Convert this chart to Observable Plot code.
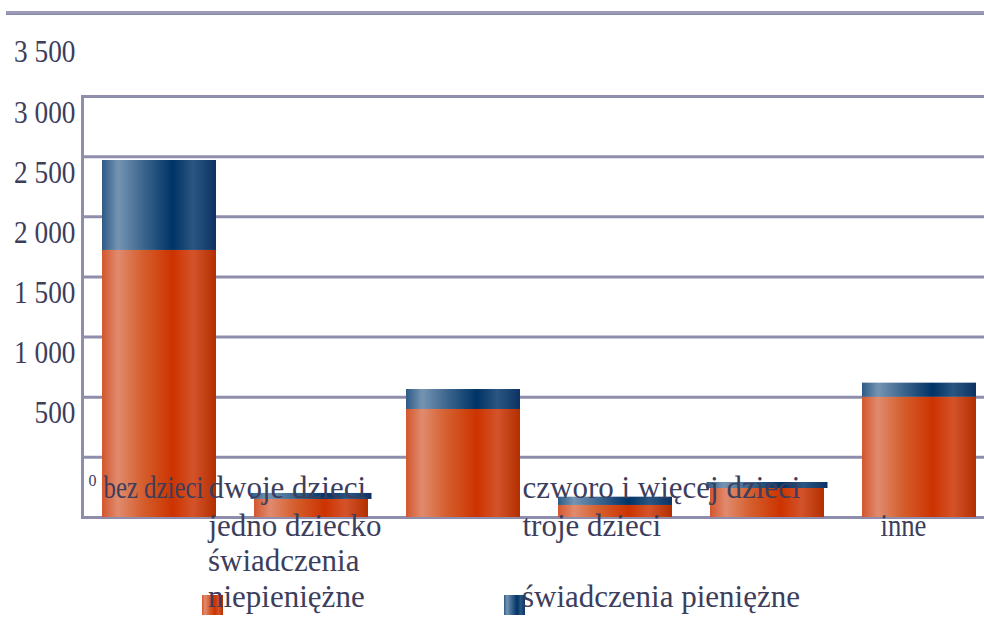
<!DOCTYPE html>
<html>
<head>
<meta charset="utf-8">
<script src="https://cdn.jsdelivr.net/npm/d3@7"></script>
<script src="https://cdn.jsdelivr.net/npm/@observablehq/plot@0.6"></script>
<style>
  html, body { margin: 0; padding: 0; background: #ffffff; }
  #wrap { position: relative; width: 984px; height: 618px; overflow: hidden; font-family: "Liberation Serif", serif; color: #3d3d5c; }
  #topline { position: absolute; left: 6px; right: 0; top: 11px; height: 3px; background: #9a9ab6; border-bottom: 1px solid #8686a6; }
  #chart { position: absolute; left: 0; top: 0; }
  .sw { position: absolute; width: 21px; height: 20px; }
  .sw.o { background: linear-gradient(to right, #d4562e 0%, #e08b6e 14%, #d5602f 35%, #cc3300 62%, #d4532a 80%, #b32f00 100%); }
  .sw.b { background: linear-gradient(to right, #2c5a86 0%, #7594b2 14%, #3f6890 35%, #003366 62%, #2a5681 80%, #0c3264 100%); }
  .lt { position: absolute; font-size: 31px; line-height: 36px; white-space: normal; }
</style>
</head>
<body>
<div id="wrap">
  <div id="topline"></div>
  <div id="chart"></div>
  <div id="legend"></div>
</div>
<script>
// ---- data ----
const categories = ["bez dzieci", "jedno dziecko", "dwoje dzieci", "troje dzieci", "czworo i więcej dzieci", "inne"];
const niepieniezne = [2220, 150, 898, 100, 241, 1000];
const pieniezne = [748, 50, 166, 69, 50, 117];
const seriesNames = ["świadczenia niepieniężne", "świadczenia pieniężne"];
const yTicks = [500, 1000, 1500, 2000, 2500, 3000, 3500];
const yTickLabels = ["500", "1 000", "1 500", "2 000", "2 500", "3 000", "3 500"];
const gridValues = [0, 500, 1000, 1500, 2000, 2500, 3000, 3500];
const zeroLabel = "0";

// table built from arrays
const table = categories.map((c, i) => ({
  cat: c,
  a: niepieniezne[i],
  b: pieniezne[i]
}));

// label layout (style only): row and horizontal offset from band centre
const labelLayout = {
  "bez dzieci": {row: 1, dx: -56},
  "jedno dziecko": {row: 2, dx: -103},
  "dwoje dzieci": {row: 1, dx: -255},
  "troje dzieci": {row: 2, dx: -93},
  "czworo i więcej dzieci": {row: 1, dx: -245},
  "inne": {row: 2, dx: -39}
};
const wideCaps = ["jedno dziecko", "czworo i więcej dzieci"];

const gridColor = "#8e8eac";
const textColor = "#3d3d5c";

const labelMarks = categories.map(c => Plot.text([c], {
  x: d => d,
  y: d => 0,
  text: d => d,
  textAnchor: "start",
  lineAnchor: "middle",
  dx: labelLayout[c].dx,
  dy: labelLayout[c].row === 1 ? -29 : 9,
  fontSize: 31,
  fill: textColor
}));

const plot = Plot.plot({
  width: 984,
  height: 560,
  marginLeft: 82,
  marginRight: 0,
  marginTop: 96,
  marginBottom: 43,
  x: {domain: categories, range: [83, 995], paddingInner: 0.25, paddingOuter: 0.125, axis: null},
  y: {domain: [0, 3500], axis: null},
  style: {fontFamily: "'Liberation Serif', serif", color: textColor, background: "transparent", overflow: "visible"},
  marks: [
    Plot.ruleY(gridValues, {stroke: gridColor, strokeWidth: 3}),
    Plot.frame({anchor: "left", stroke: gridColor, strokeWidth: 3}),
    Plot.barY(table, {x: "cat", y1: d => 0, y2: "a", fill: "url(#gradO)"}),
    Plot.barY(table.filter(d => !wideCaps.includes(d.cat)), {x: "cat", y1: "a", y2: d => d.a + d.b, fill: "url(#gradB)"}),
    Plot.barY(table.filter(d => wideCaps.includes(d.cat)), {x: "cat", y1: "a", y2: d => d.a + d.b, fill: "url(#gradB)", insetLeft: -3.5, insetRight: -3.5}),
    Plot.axisY(yTicks, {
      tickSize: 0,
      tickPadding: 7,
      dy: -44,
      fontSize: 31,
      label: null,
      tickFormat: d => yTickLabels[yTicks.indexOf(d)]
    }),
    Plot.text([0], {y: d => d, text: d => zeroLabel, frameAnchor: "left", textAnchor: "start", dx: 6, dy: -37, fontSize: 16, fill: textColor}),
    ...labelMarks
  ]
});

// gradients
const ns = "http://www.w3.org/2000/svg";
const defs = document.createElementNS(ns, "defs");
function grad(id, stops) {
  const g = document.createElementNS(ns, "linearGradient");
  g.setAttribute("id", id);
  g.setAttribute("x1", "0"); g.setAttribute("x2", "1");
  g.setAttribute("y1", "0"); g.setAttribute("y2", "0");
  stops.forEach(([o, c]) => {
    const s = document.createElementNS(ns, "stop");
    s.setAttribute("offset", o);
    s.setAttribute("stop-color", c);
    g.appendChild(s);
  });
  defs.appendChild(g);
}
grad("gradO", [[0, "#d4562e"], [0.14, "#e08b6e"], [0.35, "#d5602f"], [0.62, "#cc3300"], [0.80, "#d4532a"], [1, "#b32f00"]]);
grad("gradB", [[0, "#2c5a86"], [0.14, "#7594b2"], [0.35, "#3f6890"], [0.62, "#003366"], [0.80, "#2a5681"], [1, "#0c3264"]]);
plot.insertBefore(defs, plot.firstChild);

document.getElementById("chart").appendChild(plot);

// condensed glyphs, as in the reference
plot.querySelectorAll("text").forEach(t => {
  const s = t.textContent;
  let f = null;
  if (yTickLabels.includes(s)) f = 0.88;
  if (s === "bez dzieci") f = 0.8;
  if (s === "inne") f = 0.86;
  if (f) {
    const w = t.getComputedTextLength();
    t.setAttribute("textLength", (w * f).toFixed(1));
    t.setAttribute("lengthAdjust", "spacingAndGlyphs");
  }
});

// legend
const legend = document.getElementById("legend");
legend.innerHTML = `
  <div class="sw o" style="left:202px;top:595px"></div>
  <div class="lt" style="left:208px;top:543px;width:175px">${seriesNames[0]}</div>
  <div class="sw b" style="left:504px;top:595px"></div>
  <div class="lt" style="left:522px;top:579px;width:320px">${seriesNames[1]}</div>
`;
</script>
</body>
</html>
